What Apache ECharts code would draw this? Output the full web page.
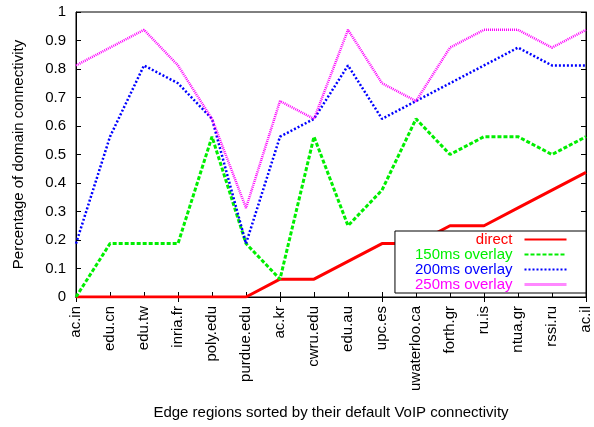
<!DOCTYPE html>
<html>
<head>
<meta charset="utf-8">
<script src="https://cdn.jsdelivr.net/npm/echarts@6/dist/echarts.min.js"></script>
<style>
  html, body { margin: 0; padding: 0; background: #fff; }
  #chart { width: 594px; height: 427px; }
</style>
</head>
<body>
<div id="chart"></div>
<script>
// Edge regions, sorted by default VoIP connectivity
const regions = ['ac.in', 'edu.cn', 'edu.tw', 'inria.fr', 'poly.edu', 'purdue.edu', 'ac.kr', 'cwru.edu',
    'edu.au', 'upc.es', 'uwaterloo.ca', 'forth.gr', 'ru.is', 'ntua.gr', 'rssi.ru', 'ac.il'];

const direct = [0, 0, 0, 0, 0, 0, 0.0625, 0.0625, 0.125, 0.1875, 0.1875, 0.25, 0.25, 0.3125, 0.375, 0.4375];
const overlay150 = [0, 0.1875, 0.1875, 0.1875, 0.5625, 0.1875, 0.0625, 0.5625, 0.25, 0.375, 0.625, 0.5, 0.5625, 0.5625, 0.5, 0.5625];
const overlay200 = [0.1875, 0.5625, 0.8125, 0.75, 0.625, 0.1875, 0.5625, 0.625, 0.8125, 0.625, 0.6875, 0.75, 0.8125, 0.875, 0.8125, 0.8125];
const overlay250 = [0.8125, 0.875, 0.9375, 0.8125, 0.625, 0.3125, 0.6875, 0.625, 0.9375, 0.75, 0.6875, 0.875, 0.9375, 0.9375, 0.875, 0.9375];

const yTicks = [0, 0.1, 0.2, 0.3, 0.4, 0.5, 0.6, 0.7, 0.8, 0.9, 1];

const font = "'Liberation Sans', Arial, sans-serif";
const fontSize = 15;
const colors = {
    direct: '#ff0000',
    o150: '#00ee00',
    o200: '#0000ff',
    o250: '#ff00ff'
};

const chart = echarts.init(document.getElementById('chart'));

const seriesDefs = [
    { name: 'direct', data: direct, color: colors.direct, width: 3, type: 'solid' },
    { name: '150ms overlay', data: overlay150, color: colors.o150, width: 3, type: [4, 2] },
    { name: '200ms overlay', data: overlay200, color: colors.o200, width: 2.5, type: [2, 2] },
    { name: '250ms overlay', data: overlay250, color: colors.o250, width: 2.5, type: [1, 1] }
];

// the fine magenta dots blur into a pale pink stroke in the legend sample
const legendLine = {
    '250ms overlay': { type: 'solid', color: '#ff88ff', width: 3 }
};

const option = {
    animation: false,
    textStyle: { fontFamily: font },
    grid: {
        left: 76,
        right: 8,
        top: 12,
        bottom: 130,
        show: true,
        borderColor: '#000',
        borderWidth: 1,
        backgroundColor: 'transparent'
    },
    legend: {
        right: 8,
        bottom: 134,
        orient: 'vertical',
        align: 'right',
        itemGap: 0,
        itemWidth: 42,
        itemHeight: 15,
        padding: [1, 18, 1, 20],
        borderColor: '#000',
        borderWidth: 1,
        backgroundColor: '#fff',
        itemStyle: { opacity: 0 },
        textStyle: { fontFamily: font, fontSize: fontSize, padding: [0, 7, 0, 0] },
        data: seriesDefs.map(s => {
            const item = { name: s.name, textStyle: { color: s.color } };
            if (legendLine[s.name]) item.lineStyle = legendLine[s.name];
            return item;
        })
    },
    xAxis: [{
        type: 'category',
        data: regions,
        boundaryGap: false,
        position: 'bottom',
        axisLine: { lineStyle: { color: '#000', width: 1 } },
        axisTick: { inside: true, length: 5, lineStyle: { color: '#000' } },
        axisLabel: {
            rotate: 90,
            interval: 0,
            margin: 9,
            color: '#000',
            fontSize: fontSize,
            fontFamily: font
        },
        splitLine: { show: false },
        name: 'Edge regions sorted by their default VoIP connectivity',
        nameLocation: 'middle',
        nameGap: 108,
        nameTextStyle: { color: '#000', fontSize: fontSize, fontFamily: font }
    }, {
        type: 'category',
        data: regions,
        boundaryGap: false,
        position: 'top',
        axisLine: { lineStyle: { color: '#000', width: 1 } },
        axisTick: { inside: true, length: 5, lineStyle: { color: '#000' } },
        axisLabel: { show: false }
    }],
    yAxis: [{
        type: 'value',
        min: 0,
        max: 1,
        interval: 0.1,
        position: 'left',
        axisLine: { show: true, lineStyle: { color: '#000', width: 1 } },
        axisTick: { show: true, inside: true, length: 5, lineStyle: { color: '#000' } },
        axisLabel: {
            color: '#000',
            fontSize: fontSize,
            fontFamily: font,
            margin: 10,
            formatter: v => {
                const t = yTicks.find(x => Math.abs(x - v) < 1e-6);
                return t === undefined ? '' : String(t);
            }
        },
        splitLine: { show: false },
        name: 'Percentage of domain connectivity',
        nameLocation: 'middle',
        nameGap: 50,
        nameTextStyle: { color: '#000', fontSize: fontSize, fontFamily: font }
    }, {
        type: 'value',
        min: 0,
        max: 1,
        interval: 0.1,
        position: 'right',
        axisLine: { show: true, lineStyle: { color: '#000', width: 1 } },
        axisTick: { show: true, inside: true, length: 5, lineStyle: { color: '#000' } },
        axisLabel: { show: false },
        splitLine: { show: false }
    }],
    series: seriesDefs.map(s => ({
        name: s.name,
        type: 'line',
        data: s.data,
        showSymbol: false,
        symbol: 'none',
        color: s.color,
        lineStyle: { color: s.color, width: s.width, type: s.type, cap: 'butt' }
    }))
};

chart.setOption(option);
</script>
</body>
</html>
